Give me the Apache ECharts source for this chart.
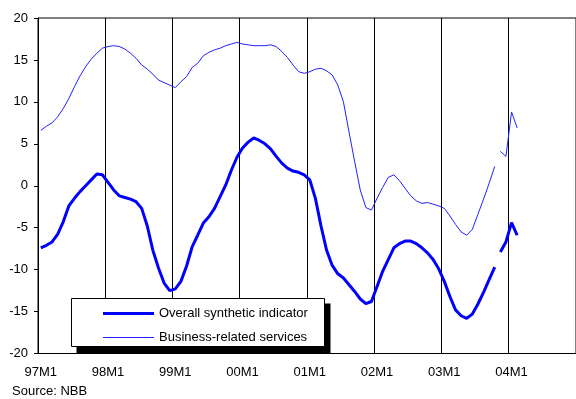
<!DOCTYPE html>
<html>
<head>
<meta charset="utf-8">
<script src="https://cdn.jsdelivr.net/npm/echarts@6/dist/echarts.min.js"></script>
<style>
html,body{margin:0;padding:0;background:#fff;}
#main{width:576px;height:399px;}
</style>
</head>
<body>
<div id="main"></div>
<script>
// monthly categories 97M1 .. 04M12
var months = [];
for (var y = 97; y <= 104; y++) {
    for (var mm = 1; mm <= 12; mm++) {
        months.push((y % 100 < 10 ? "0" : "") + (y % 100) + "M" + mm);
    }
}

// Overall synthetic indicator, 97M1 - 03M10, then 03M11 - 04M2
var overallA = [-7.4,-7.1,-6.7,-5.8,-4.3,-2.4,-1.5,-0.7,0.0,0.7,1.4,1.3,
    0.4,-0.5,-1.2,-1.4,-1.6,-1.9,-2.7,-4.8,-7.7,-9.8,-11.6,-12.5,
    -12.3,-11.4,-9.6,-7.3,-5.9,-4.45,-3.7,-2.7,-1.3,0.1,1.85,3.4,
    4.5,5.2,5.7,5.4,5.0,4.4,3.5,2.7,2.1,1.75,1.6,1.3,
    0.7,-1.5,-4.8,-7.7,-9.5,-10.5,-11.0,-11.8,-12.6,-13.5,-14.05,-13.8,
    -12.0,-10.2,-8.8,-7.4,-6.9,-6.6,-6.6,-6.9,-7.4,-8.0,-8.8,-9.9,
    -11.4,-13.2,-14.8,-15.5,-15.8,-15.3,-14.1,-12.7,-11.2,-9.7];
var overallB = [-7.9,-6.7,-4.4,-5.9];

// Business-related services
var businessA = [6.6,7.1,7.5,8.2,9.2,10.4,11.8,13.1,14.2,15.1,15.8,16.4,
    16.6,16.7,16.6,16.3,15.8,15.2,14.4,13.9,13.3,12.6,12.3,12.0,
    11.7,12.4,13.0,14.1,14.6,15.5,15.9,16.2,16.4,16.7,16.9,17.1,
    16.9,16.8,16.7,16.7,16.7,16.8,16.6,16.0,15.3,14.4,13.6,13.4,
    13.6,13.9,14.0,13.7,13.2,12.0,10.0,6.4,2.9,-0.5,-2.6,-2.9,
    -1.5,-0.2,1.0,1.3,0.6,-0.3,-1.2,-1.8,-2.1,-2.0,-2.2,-2.4,
    -2.7,-3.6,-4.6,-5.5,-5.9,-5.2,-3.4,-1.6,0.3,2.3];
var businessB = [4.1,3.5,8.8,6.9];

var yTicks = [-20,-15,-10,-5,0,5,10,15,20];

function pad(before, vals) {
    var out = [];
    for (var i = 0; i < before; i++) out.push(null);
    for (var j = 0; j < vals.length; j++) out.push(vals[j]);
    while (out.length < months.length) out.push(null);
    return out;
}

var font = "Liberation Sans, Arial, sans-serif";
var myChart = echarts.init(document.getElementById("main"));

var option = {
    animation: false,
    grid: {
        left: 38, top: 18, bottom: 45.5, right: -2.3,
        show: true, borderColor: "#000", borderWidth: 1, backgroundColor: "transparent"
    },
    xAxis: {
        type: "category",
        data: months,
        boundaryGap: true,
        axisLine: {onZero: false, lineStyle: {color: "#000", width: 1}},
        axisTick: {show: false},
        axisLabel: {interval: 11, margin: 12, color: "#000", fontSize: 13, fontFamily: font},
        splitLine: {show: true, interval: 11, lineStyle: {color: "#000", width: 1}}
    },
    yAxis: {
        type: "value",
        min: yTicks[0], max: yTicks[yTicks.length - 1], interval: 5,
        axisLine: {show: true, lineStyle: {color: "#000", width: 1}},
        axisTick: {show: true, length: 4, lineStyle: {color: "#000"}},
        axisLabel: {margin: 10, color: "#000", fontSize: 13, fontFamily: font},
        splitLine: {show: false}
    },
    legend: {
        z: 60,
        orient: "vertical",
        left: 98, top: 302,
        itemWidth: 51, itemHeight: 14, itemGap: 11,
        selectedMode: false,
        textStyle: {color: "#000", fontSize: 13, fontFamily: font},
        data: [
            {name: "Overall synthetic indicator", icon: "path://M0,0H51V3H0Z", itemStyle: {color: "#0000ff"}},
            {name: "Business-related services", icon: "path://M0,0H51V1H0Z", itemStyle: {color: "#2020ff"}}
        ]
    },
    graphic: [
        {type: "rect", z: 50, shape: {x: 76.5, y: 303.5, width: 254, height: 50}, style: {fill: "#000"}},
        {type: "rect", z: 51, shape: {x: 71.5, y: 298.5, width: 253, height: 48},
            style: {fill: "#fff", stroke: "#000", lineWidth: 1}},
        {type: "text", z: 51, left: 12, top: 385,
            style: {text: "Source: NBB", fill: "#000", font: "13px " + font}}
    ],
    series: [
        {name: "Overall synthetic indicator", type: "line", symbol: "none",
            lineStyle: {color: "#0000ff", width: 3}, itemStyle: {color: "#0000ff"},
            data: pad(0, overallA)},
        {name: "Overall synthetic indicator", type: "line", symbol: "none",
            lineStyle: {color: "#0000ff", width: 3}, itemStyle: {color: "#0000ff"},
            data: pad(overallA.length, overallB)},
        {name: "Business-related services", type: "line", symbol: "none",
            lineStyle: {color: "#2020ff", width: 1}, itemStyle: {color: "#2020ff"},
            data: pad(0, businessA)},
        {name: "Business-related services", type: "line", symbol: "none",
            lineStyle: {color: "#2020ff", width: 1}, itemStyle: {color: "#2020ff"},
            data: pad(businessA.length, businessB)}
    ]
};
myChart.setOption(option, true);
</script>
</body>
</html>
